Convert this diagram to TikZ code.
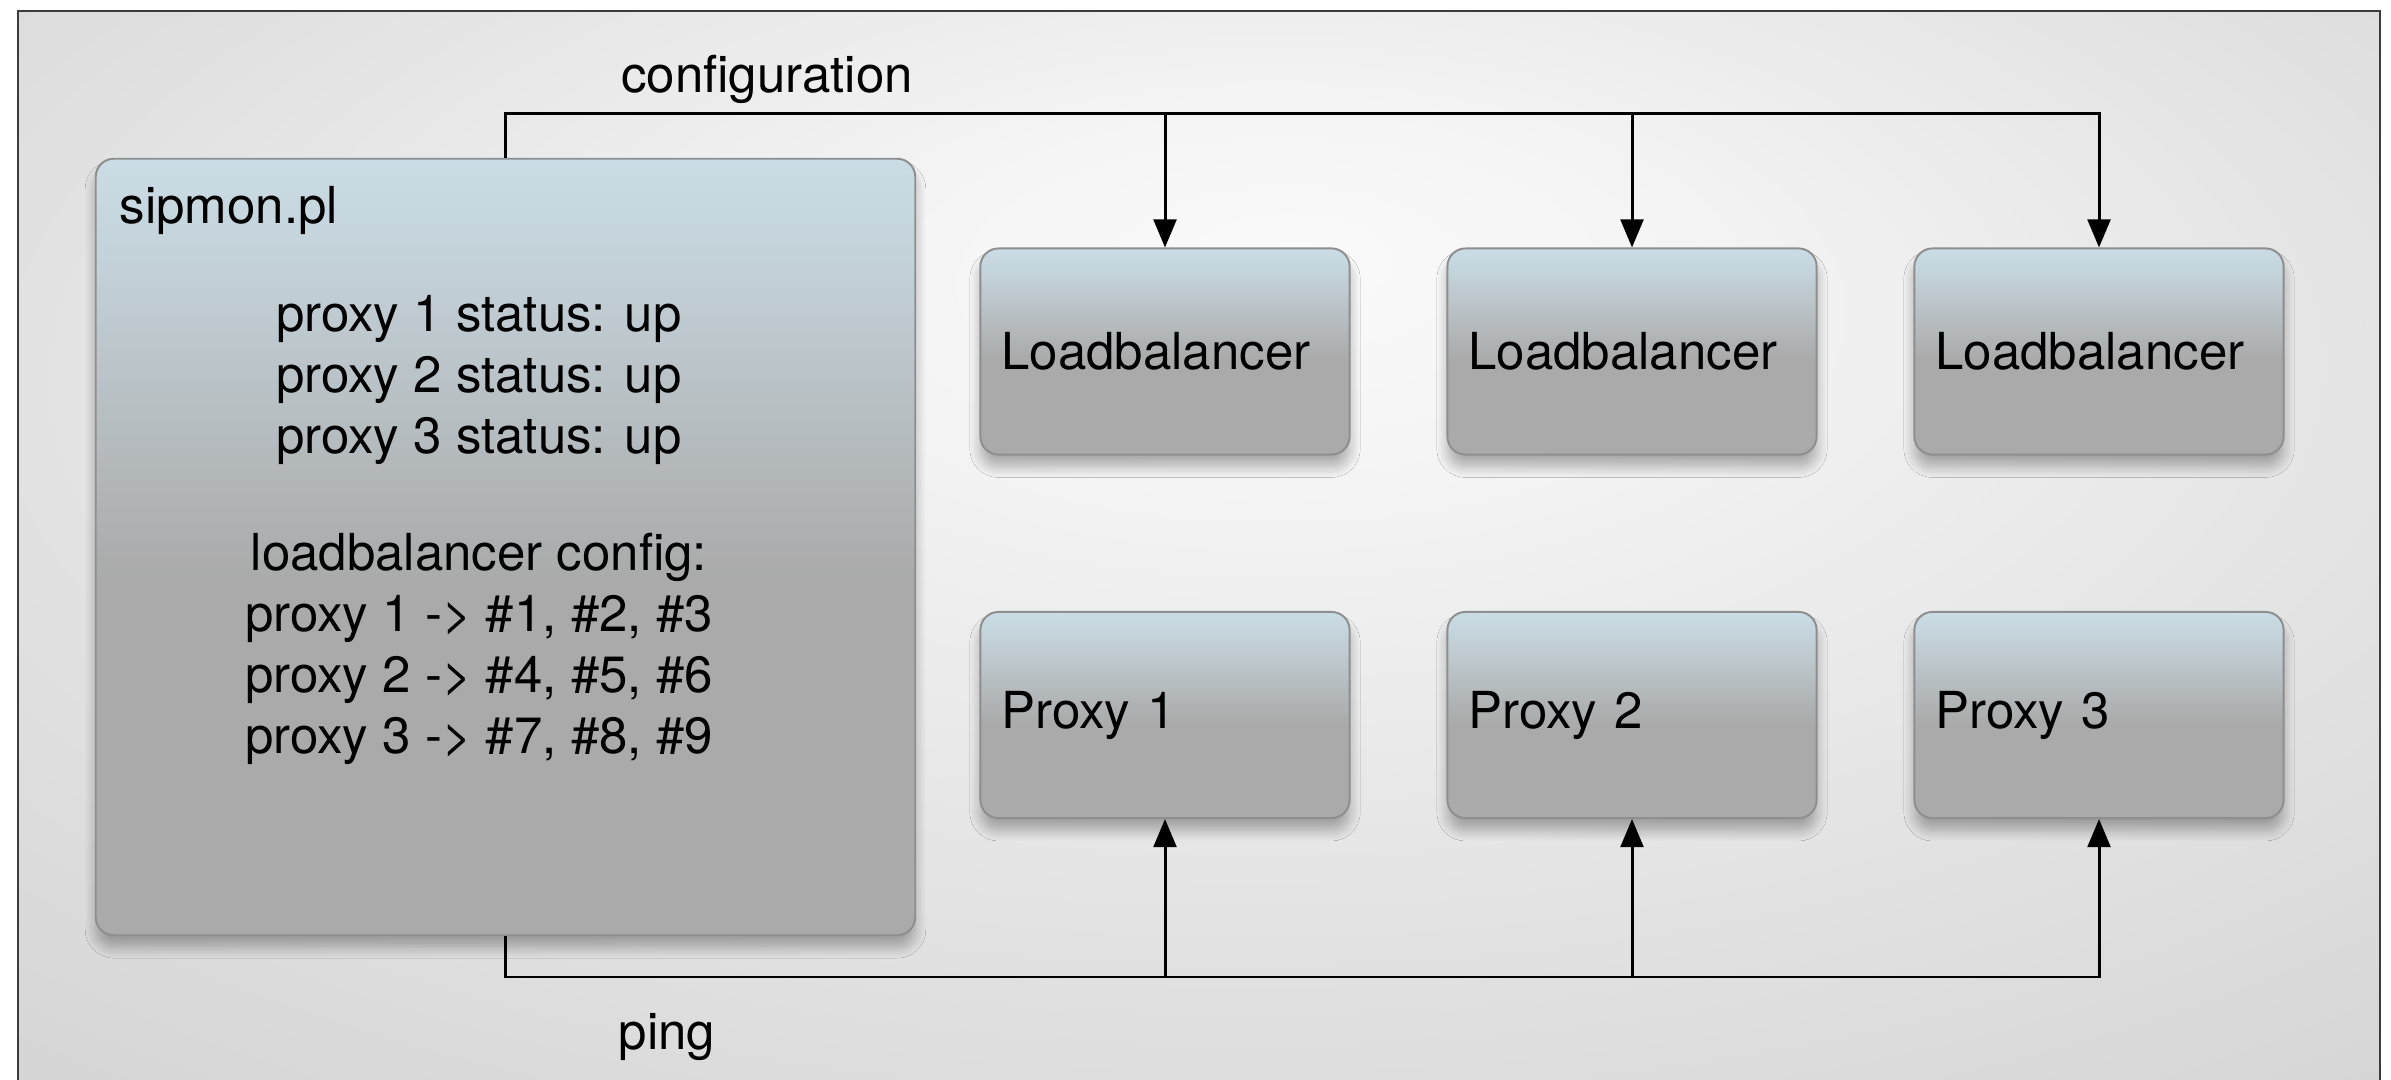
\documentclass[tikz,border=0pt]{standalone}
\usepackage{fontspec}
\setmainfont{TeX Gyre Heros}
\usetikzlibrary{arrows.meta,shadows.blur}

\definecolor{framegray}{HTML}{3C3C3C}
\definecolor{boxtop}{HTML}{CADCE5}
\definecolor{boxbot}{HTML}{AAAAAA}
\definecolor{boxedge}{HTML}{8E8E8E}
\definecolor{bgmid}{HTML}{E6E6E6}
\definecolor{bgout}{HTML}{D6D6D6}

% panel fill (path spans 25bp..75bp): flat grey in the lower half, light blue at the top
\pgfdeclareverticalshading{boxfill}{100bp}{color(0bp)=(boxbot); color(48bp)=(boxbot); color(70bp)=(boxtop!85!boxbot); color(75bp)=(boxtop); color(100bp)=(boxtop)}
% backdrop: bright spot in the upper middle, darker towards the edges
\pgfdeclareradialshading{framefill}{\pgfpoint{2bp}{14bp}}{color(0bp)=(white!98!black); color(8bp)=(white!96!black); color(22bp)=(bgmid); color(38bp)=(bgout); color(60bp)=(bgout!95!black)}

\newcommand{\diagfont}{\fontsize{14.5pt}{17.4pt}\selectfont}

\tikzset{
  panel/.style={draw=boxedge, line width=0.55pt, rounded corners=0.18cm,
    shade, shading=boxfill,
    blur shadow={shadow xshift=0pt, shadow yshift=-3.5pt, shadow blur radius=3pt, shadow blur steps=12, shadow opacity=30}},
  unit/.style={panel, minimum width=3.69cm, minimum height=2.06cm,
    text width=3.27cm, inner xsep=0.21cm, align=left, font=\diagfont},
  caption/.style={font=\diagfont, inner sep=0pt},
  wire/.style={line width=0.85pt, black},
  feed/.style={wire, -{Triangle[length=8pt, width=6.5pt]}}
}

\begin{document}
\begin{tikzpicture}[x=0.01cm, y=-0.01cm]
\useasboundingbox (0,0) rectangle (2391,1080);

% backdrop with its frame
\begin{scope}
  \clip (0,0) rectangle (2391,1080);
  \shade[shading=framefill] (18,11) rectangle (2380,1100);
  \draw[framegray, line width=0.7pt] (18,11) rectangle (2380,1100);
\end{scope}

% monitor panel
\node[panel, minimum width=8.19cm, minimum height=7.76cm] (mon) at (505.5,547) {};
\node[caption, anchor=west] (montitle) at (119,210) {sipmon.pl};
\node[caption, align=center] (status) at (479,380) {proxy 1 status: up\\proxy 2 status: up\\proxy 3 status: up};
\node[caption, align=center] (cfg) at (479,649) {loadbalancer config:\\proxy 1 -> \#1, \#2, \#3\\proxy 2 -> \#4, \#5, \#6\\proxy 3 -> \#7, \#8, \#9};

% load balancers and proxies
\node[unit] (lb1) at (1165,351.5) {Loadbalancer};
\node[unit] (lb2) at (1632,351.5) {Loadbalancer};
\node[unit] (lb3) at (2099,351.5) {Loadbalancer};
\node[unit] (px1) at (1165,715) {Proxy 1};
\node[unit] (px2) at (1632,715) {Proxy 2};
\node[unit] (px3) at (2099,715) {Proxy 3};

% configuration bus
\coordinate (cfgbend) at (505.5,114);
\draw[feed] (mon.north) -- (cfgbend) -| (lb3.north);
\draw[feed] (cfgbend -| lb1.north) -- (lb1.north);
\draw[feed] (cfgbend -| lb2.north) -- (lb2.north);
\node[caption] (cfglabel) at (767,79) {configuration};

% ping bus
\coordinate (pingbend) at (505.5,977);
\draw[feed] (mon.south) -- (pingbend) -| (px3.south);
\draw[feed] (pingbend -| px1.south) -- (px1.south);
\draw[feed] (pingbend -| px2.south) -- (px2.south);
\node[caption] (pinglabel) at (667,1037) {ping};
\end{tikzpicture}
\end{document}
